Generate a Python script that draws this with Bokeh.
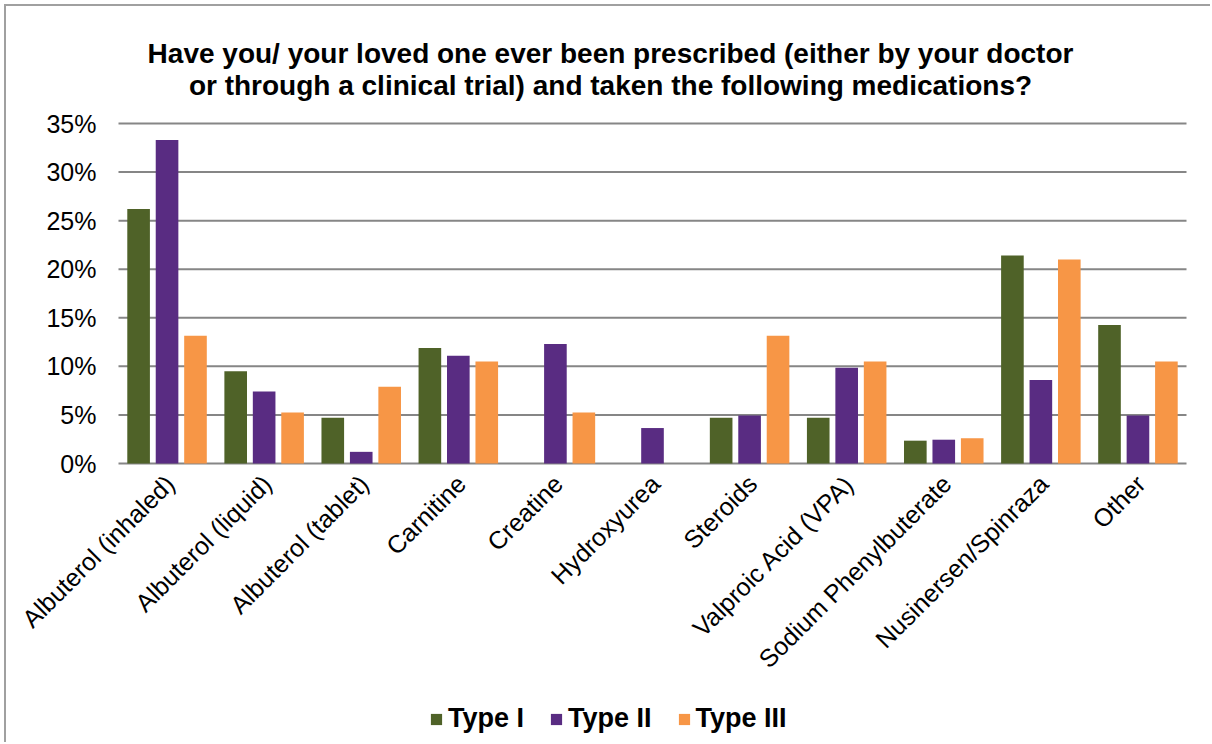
from math import pi

from bokeh.core.properties import value
from bokeh.embed import file_html
from bokeh.resources import INLINE
from bokeh.plotting import figure
from bokeh.models import ColumnDataSource, Range1d, Legend, LegendItem, Label
from bokeh.transform import dodge

# --- data -----------------------------------------------------------------
medications = [
    "Albuterol (inhaled)", "Albuterol (liquid)", "Albuterol (tablet)",
    "Carnitine", "Creatine", "Hydroxyurea", "Steroids",
    "Valproic Acid (VPA)", "Sodium Phenylbuterate", "Nusinersen/Spinraza",
    "Other",
]
type_1 = [0.262, 0.095, 0.047, 0.119, 0.0, 0.0, 0.047, 0.047, 0.0235, 0.214, 0.1425]
type_2 = [0.333, 0.074, 0.012, 0.111, 0.123, 0.0365, 0.0495, 0.0985, 0.0245, 0.086, 0.0495]
type_3 = [0.1315, 0.0525, 0.079, 0.105, 0.0525, 0.0, 0.1315, 0.105, 0.026, 0.210, 0.105]
series_names = ["Type I", "Type II", "Type III"]
y_ticks = [0.0, 0.05, 0.10, 0.15, 0.20, 0.25, 0.30, 0.35]
y_tick_labels = ["0%", "5%", "10%", "15%", "20%", "25%", "30%", "35%"]
title_lines = [
    "Have you/ your loved one ever been prescribed (either by your doctor",
    "or through a clinical trial) and taken the following medications?",
]

colors = ["#4F6228", "#592C82", "#F79646"]
GRID = "#868686"
FONT = "Liberation Sans"

# --- layout (pixels) ------------------------------------------------------
CANVAS_W, CANVAS_H = 1206, 738          # inside the 4px margin + 2px frame border
LEFT, RIGHT = 112, 26                   # space left/right of the bar area
TOP_PX, AXIS_PX = 117, 457              # y of the 35% line and of the 0% line
n = len(medications)
cat_w = (CANVAS_W - LEFT - RIGHT) / n
Y_MAX = y_ticks[-1]
per_px = Y_MAX / (AXIS_PX - TOP_PX)

source = ColumnDataSource(dict(
    med=medications,
    pos=[i + 0.5 for i in range(n)],
    base=[0.0] * n,
    t1=type_1, t2=type_2, t3=type_3,
))
ticks = ColumnDataSource(dict(
    y=y_ticks, label=y_tick_labels,
    x0=[0.0] * len(y_ticks), x1=[float(n)] * len(y_ticks),
))

p = figure(
    width=CANVAS_W, height=CANVAS_H,
    x_range=Range1d(-LEFT / cat_w, n + RIGHT / cat_w),
    y_range=Range1d(-(CANVAS_H - AXIS_PX) * per_px, Y_MAX + TOP_PX * per_px),
    x_axis_location=None, y_axis_location=None,
    output_backend="svg", toolbar_location=None,
    min_border=0,
    background_fill_color="white", border_fill_color="white",
    margin=(4, 0, 0, 4),
    styles={"border-top": "2px solid #a0a0a0", "border-left": "2px solid #a0a0a0"},
)
p.outline_line_color = None
p.grid.visible = False

# horizontal gridlines and their percent labels
p.segment(x0="x0", x1="x1", y0="y", y1="y", source=ticks,
          line_color=GRID, line_width=2)
p.text(x="x0", y="y", text="label", source=ticks, x_offset=-22,
       text_align="right", text_baseline="middle",
       text_font=value(FONT), text_font_size="25px", text_color="black")

# grouped bars
bar_w = 0.233
offsets = [-0.293, 0.0, 0.293]
renderers = []
for col, off, c in zip(["t1", "t2", "t3"], offsets, colors):
    r = p.vbar(x=dodge("pos", off), top=col, width=bar_w,
               source=source, fill_color=c, line_color=None)
    renderers.append(r)

# slanted category labels hanging from the baseline
p.text(x="pos", y="base", text="med", source=source, angle=pi / 4,
       x_offset=-7, y_offset=6, text_align="right", text_baseline="top",
       text_font=value(FONT), text_font_size="25px", text_color="black")

# two-line bold title
for i, line in enumerate(title_lines):
    p.add_layout(Label(x=604, y=CANVAS_H - 47 - 32 * i, x_units="screen", y_units="screen",
                       text=line, text_align="center", text_baseline="middle",
                       text_font=FONT, text_font_size="28px", text_font_style="bold",
                       text_color="black"))

# legend at the bottom
legend = Legend(
    items=[LegendItem(label=s, renderers=[r]) for s, r in zip(series_names, renderers)],
    orientation="horizontal", location=(423, 10),
    glyph_width=14, glyph_height=14, label_standoff=5, spacing=25,
    padding=0, margin=0, border_line_color=None, background_fill_alpha=0,
    label_text_font=FONT, label_text_font_size="27px", label_text_font_style="bold",
    label_text_color="black",
)
p.add_layout(legend, "center")

open("out.html", "w").write(file_html(p, INLINE))
